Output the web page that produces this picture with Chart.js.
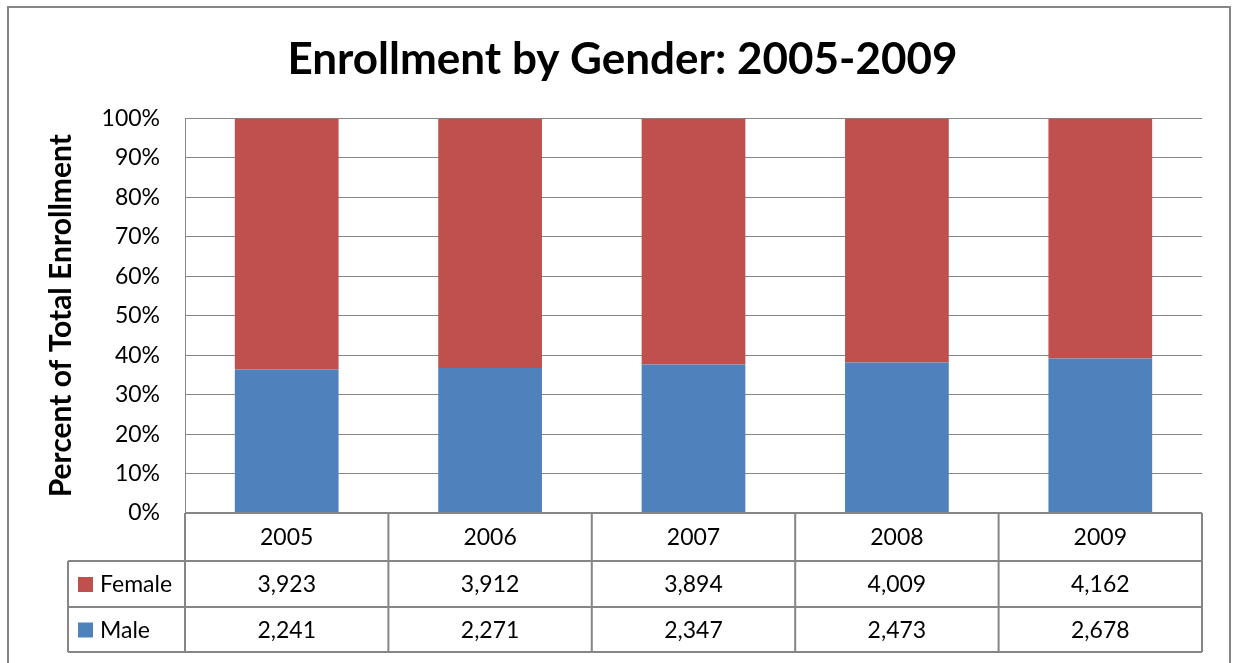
<!DOCTYPE html>
<html>
<head>
<meta charset="utf-8">
<script src="https://cdn.jsdelivr.net/npm/chart.js@4"></script>
<style>
    html, body { margin: 0; padding: 0; background: #fff; }
    #wrap { width: 1233px; height: 663px; }
</style>
</head>
<body>
<div id="wrap"><canvas id="enrollChart" width="1233" height="663"></canvas></div>
<script>
// ------------------------------------------------------------
// data
// ------------------------------------------------------------
const years = ['2005', '2006', '2007', '2008', '2009'];
const femaleCounts = [3923, 3912, 3894, 4009, 4162];
const maleCounts = [2241, 2271, 2347, 2473, 2678];
const yTicks = [0, 10, 20, 30, 40, 50, 60, 70, 80, 90, 100];

const FONT = 'Lato, "Open Sans", sans-serif';
const GRID = '#868686';
const colors = { female: '#C0504D', male: '#4F81BD' };

// 100% stacked: share of each year's total
const totals = years.map((y, i) => femaleCounts[i] + maleCounts[i]);
const malePct = maleCounts.map((v, i) => v / totals[i] * 100);
const femalePct = femaleCounts.map((v, i) => v / totals[i] * 100);

// rows of the data table under the plot (top to bottom)
const tableRows = [
    { name: 'Female', color: colors.female, values: femaleCounts },
    { name: 'Male', color: colors.male, values: maleCounts }
];

// outer frame + white background
const framePlugin = {
    id: 'frame',
    beforeDraw(chart) {
        const ctx = chart.ctx;
        ctx.save();
        ctx.fillStyle = '#fff';
        ctx.fillRect(0, 0, chart.width, chart.height);
        ctx.strokeStyle = GRID;
        ctx.lineWidth = 2;
        ctx.strokeRect(8, 7, 1222, 700);
        ctx.restore();
    }
};

// data table drawn under the x axis
const tablePlugin = {
    id: 'dataTable',
    afterDraw(chart) {
        const ctx = chart.ctx;
        const x = chart.scales.x;
        const area = chart.chartArea;
        const top = area.bottom;
        const rowY = [top, 561, 607, 652];
        const legendLeft = 68;
        const half = (x.getPixelForValue(1) - x.getPixelForValue(0)) / 2;

        ctx.save();
        ctx.strokeStyle = GRID;
        ctx.lineWidth = 2;

        // horizontal lines
        ctx.beginPath();
        ctx.moveTo(area.left, rowY[0]); ctx.lineTo(area.right, rowY[0]);
        for (let r = 1; r < rowY.length; r++) {
            ctx.moveTo(legendLeft, rowY[r]); ctx.lineTo(area.right, rowY[r]);
        }
        // vertical lines
        ctx.moveTo(legendLeft, rowY[1]); ctx.lineTo(legendLeft, rowY[3]);
        years.forEach((y, i) => {
            const l = x.getPixelForValue(i) - half;
            ctx.moveTo(l, rowY[0]); ctx.lineTo(l, rowY[3]);
        });
        ctx.moveTo(area.right, rowY[0]); ctx.lineTo(area.right, rowY[3]);
        ctx.stroke();

        ctx.fillStyle = '#000';
        ctx.font = '23px ' + FONT;
        ctx.textAlign = 'center';
        ctx.textBaseline = 'middle';
        years.forEach((y, i) => {
            ctx.fillText(y, x.getPixelForValue(i), (rowY[0] + rowY[1]) / 2 + 1);
        });

        tableRows.forEach((row, r) => {
            const cy = (rowY[r + 1] + rowY[r + 2]) / 2 + 1;
            row.values.forEach((v, i) => {
                ctx.fillStyle = '#000';
                ctx.textAlign = 'center';
                ctx.fillText(v.toLocaleString('en-US'), x.getPixelForValue(i), cy);
            });
            // legend key + name
            ctx.fillStyle = row.color;
            ctx.fillRect(78, cy - 8, 15, 15);
            ctx.fillStyle = '#000';
            ctx.textAlign = 'left';
            ctx.fillText(row.name, 100, cy);
        });
        ctx.restore();
    }
};

new Chart(document.getElementById('enrollChart').getContext('2d'), {
    type: 'bar',
    data: {
        labels: years,
        datasets: [
            { label: 'Male', data: malePct, backgroundColor: colors.male },
            { label: 'Female', data: femalePct, backgroundColor: colors.female }
        ]
    },
    options: {
        responsive: false,
        animation: false,
        layout: { padding: { left: 43, right: 31, top: 0, bottom: 150 } },
        datasets: { bar: { categoryPercentage: 1, barPercentage: 0.51 } },
        plugins: {
            legend: { display: false },
            tooltip: { enabled: false },
            title: {
                display: true,
                text: 'Enrollment by Gender: 2005-2009',
                color: '#000',
                font: { family: FONT, size: 44, weight: 'bold' },
                padding: { top: 33.6, bottom: 32 }
            }
        },
        scales: {
            x: {
                stacked: true,
                display: false
            },
            y: {
                stacked: true,
                min: 0,
                max: 100,
                afterBuildTicks(axis) { axis.ticks = yTicks.map(v => ({ value: v })); },
                afterFit(axis) { axis.width = 142; },
                ticks: {
                    color: '#000',
                    padding: 25,
                    font: { family: FONT, size: 23 },
                    callback: v => v + '%'
                },
                grid: { color: GRID, lineWidth: 1, drawTicks: false },
                border: { color: GRID, width: 1 },
                title: {
                    display: true,
                    text: 'Percent of Total Enrollment',
                    color: '#000',
                    font: { family: FONT, size: 30, weight: 'bold' },
                    padding: { top: 0, bottom: 0 }
                }
            }
        }
    },
    plugins: [framePlugin, tablePlugin]
});
</script>
</body>
</html>
